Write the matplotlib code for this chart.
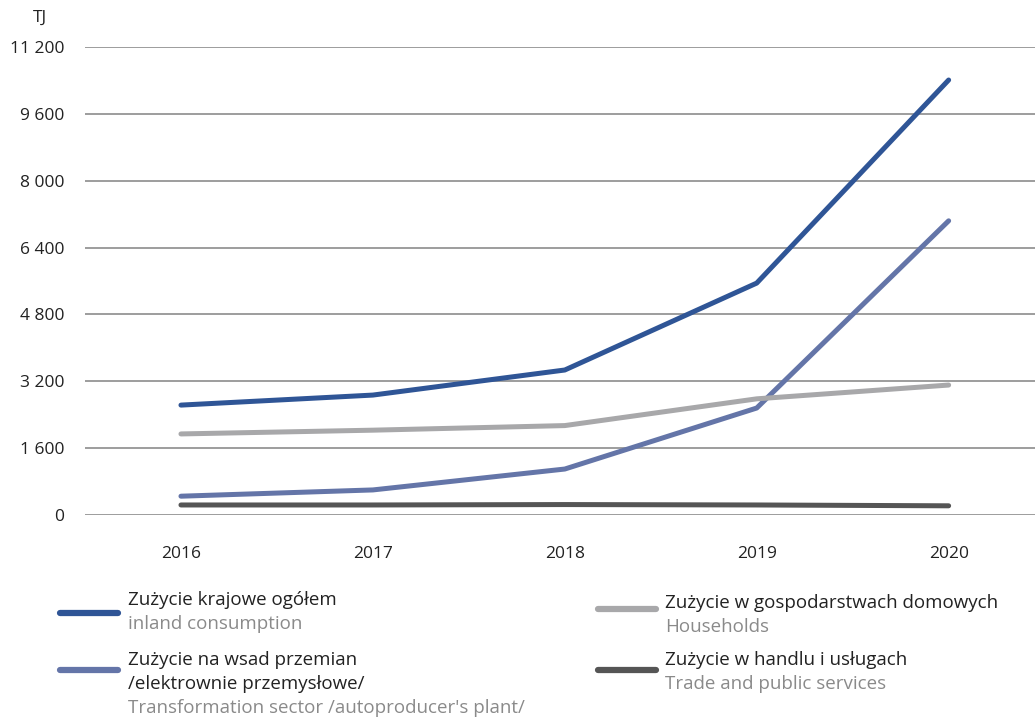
import matplotlib.pyplot as plt
from matplotlib.lines import Line2D

years = ['2016', '2017', '2018', '2019', '2020']
inland = [2630, 2870, 3470, 5550, 10410]
transformation = [450, 600, 1100, 2560, 7040]
households = [1940, 2030, 2140, 2780, 3110]
trade = [240, 240, 250, 240, 220]

yticks = [0, 1600, 3200, 4800, 6400, 8000, 9600, 11200]
ytick_labels = ['0', '1 600', '3 200', '4 800', '6 400', '8 000', '9 600', '11 200']

series = [
    (inland, '#2F5596', ['Zużycie krajowe ogółem'], 'inland consumption'),
    (transformation, '#6475A8', ['Zużycie na wsad przemian', '/elektrownie przemysłowe/'],
     "Transformation sector /autoproducer's plant/"),
    (households, '#A8A8AA', ['Zużycie w gospodarstwach domowych'], 'Households'),
    (trade, '#555555', ['Zużycie w handlu i usługach'], 'Trade and public services'),
]

plt.rcParams['font.family'] = ['Open Sans', 'DejaVu Sans']

fig = plt.figure(figsize=(10.35, 7.18), dpi=100)
ax = fig.add_axes([85 / 1035, 1 - 515 / 718, 950 / 1035, 468 / 718])

x = range(len(years))
for vals, col, pl, en in series:
    ax.plot(x, vals, color=col, lw=3.6, solid_capstyle='round', zorder=3)

ax.set_xlim(-0.5, 4.45)
ax.set_ylim(0, 11200)
ax.set_yticks(yticks)
ax.set_yticklabels(ytick_labels, fontsize=12.5, color='#222222')
ax.set_xticks(list(x))
ax.set_xticklabels(years, fontsize=12.5, color='#222222')
ax.tick_params(length=0)
ax.tick_params(axis='y', pad=15)
ax.tick_params(axis='x', pad=22)
ax.grid(axis='y', color='#8C8C8C', lw=1.2)
ax.set_axisbelow(True)
for s in ax.spines.values():
    s.set_visible(False)

fig.text(40 / 1035, 1 - 18 / 718, 'TJ', fontsize=12.5, color='#222222', ha='center', va='center')

# legend drawn by hand: (line x, line y, text x, first text y)
positions = [(60, 613, 128, 600), (60, 670, 128, 660), (598, 609, 665, 603), (598, 670, 665, 660)]
step = 24
for (vals, col, pl, en), (lx, ly, tx, ty) in zip(series, positions):
    yl = 1 - ly / 718
    fig.add_artist(Line2D([lx / 1035, (lx + 58) / 1035], [yl, yl], color=col, lw=4.5,
                          solid_capstyle='round', transform=fig.transFigure))
    for i, line in enumerate(pl):
        fig.text(tx / 1035, 1 - (ty + i * step) / 718, line, fontsize=13.5, color='#222222',
                 va='center', ha='left')
    fig.text(tx / 1035, 1 - (ty + len(pl) * step) / 718, en, fontsize=13.5, color='#8A8A8A',
             va='center', ha='left')

fig.savefig('out.png', dpi=100)
